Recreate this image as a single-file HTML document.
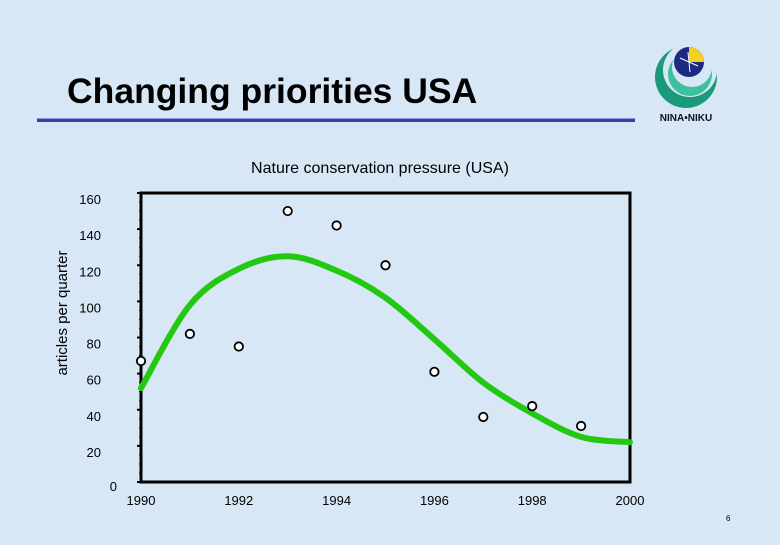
<!DOCTYPE html>
<html><head><meta charset="utf-8">
<style>
html,body{margin:0;padding:0;}
body{width:780px;height:540px;background:#d7e7f6;overflow:hidden;font-family:"Liberation Sans",sans-serif;}
</style></head>
<body>
<svg width="780" height="540" viewBox="0 0 780 540" xmlns="http://www.w3.org/2000/svg">
<rect x="0" y="0" width="780" height="540" fill="#d7e7f6"/>
<text x="67" y="103" font-size="35.5" font-weight="bold" fill="#000">Changing priorities USA</text>
<rect x="37" y="118.5" width="598" height="3.5" fill="#3a3fb0"/>
<g>
<circle cx="686" cy="77" r="31" fill="#1a9a7a"/>
<circle cx="690" cy="70" r="27" fill="#d7e7f6"/>
<circle cx="690" cy="74" r="22" fill="#3cc0a0"/>
<circle cx="692" cy="67" r="20" fill="#d7e7f6"/>
<circle cx="689" cy="62" r="15" fill="#1c2a80"/>
<path d="M689 47 A15 15 0 0 1 704 62 L689 62Z" fill="#f5d020"/>
<line x1="680" y1="58" x2="698" y2="66" stroke="#fff" stroke-width="1"/>
<line x1="688" y1="52" x2="690" y2="72" stroke="#fff" stroke-width="1"/>
<text x="686" y="121" font-size="10" font-weight="bold" text-anchor="middle" fill="#112">NINA•NIKU</text>
</g>
<text x="380" y="173" font-size="16" text-anchor="middle">Nature conservation pressure (USA)</text>
<text transform="translate(67,313) rotate(-90)" font-size="15" text-anchor="middle">articles per quarter</text>
<g id="plot"></g>
<text x="726" y="521" font-size="8">6</text>
</svg>
<script>
const years=[1990,1991,1992,1993,1994,1995,1996,1997,1998,1999];
const observed=[67,82,75,150,142,120,61,36,42,31];
const trendYears=[1990,1991,1992,1993,1994,1995,1996,1997,1998,1999,2000];
const trendValues=[52,98,118,125,117,102,79,55,38,25,22];
const yTicks=[0,20,40,60,80,100,120,140,160];
const xTicks=[1990,1992,1994,1996,1998,2000];

const NS='http://www.w3.org/2000/svg';
const X0=141,X1=630,Y0=482,Y1=193;
function xs(v){return X0+(v-1990)/10*(X1-X0);}
function ys(v){return Y0-v/160*(Y0-Y1);}
const g=document.getElementById('plot');
function mk(t,a){const e=document.createElementNS(NS,t);for(const k in a)e.setAttribute(k,a[k]);g.appendChild(e);return e;}

let fr=mk('rect',{x:X0,y:Y1,width:X1-X0,height:Y0-Y1,fill:'none',stroke:'#000','stroke-width':3});


for(let v=0;v<=160;v+=5){
  const major=v%20===0;
  const t=mk('line',{x1:X0-(major?4:2),x2:X0,y1:ys(v),y2:ys(v),stroke:'#000','stroke-width':major?2:1});
  
  
}
yTicks.forEach(v=>{
  const t=mk('text',{x:v===0?117:101,y:ys(v)+(v===0?9:11),'font-size':13,'text-anchor':'end'});
  t.textContent=v;
  
  
});
xTicks.forEach(v=>{
  const t=mk('text',{x:xs(v),y:505,'font-size':13,'text-anchor':'middle'});
  t.textContent=v;
  
  
});
const P=trendYears.map((y,i)=>[xs(y),ys(trendValues[i])]);
let d='M'+P[0][0]+' '+P[0][1];
for(let i=0;i<P.length-1;i++){
  const p0=P[Math.max(0,i-1)],p1=P[i],p2=P[i+1],p3=P[Math.min(P.length-1,i+2)];
  const c1=[p1[0]+(p2[0]-p0[0])/6,p1[1]+(p2[1]-p0[1])/6];
  const c2=[p2[0]-(p3[0]-p1[0])/6,p2[1]-(p3[1]-p1[1])/6];
  d+=' C'+c1+' '+c2+' '+p2;
}
const tr=mk('path',{d:d,fill:'none',stroke:'#22c811','stroke-width':6,'stroke-linecap':'round'});


years.forEach((y,i)=>{
  const c=mk('circle',{cx:xs(y),cy:ys(observed[i]),r:4.2,fill:'#fff',stroke:'#000','stroke-width':1.8});
  
  
});
</script>
</body></html>
